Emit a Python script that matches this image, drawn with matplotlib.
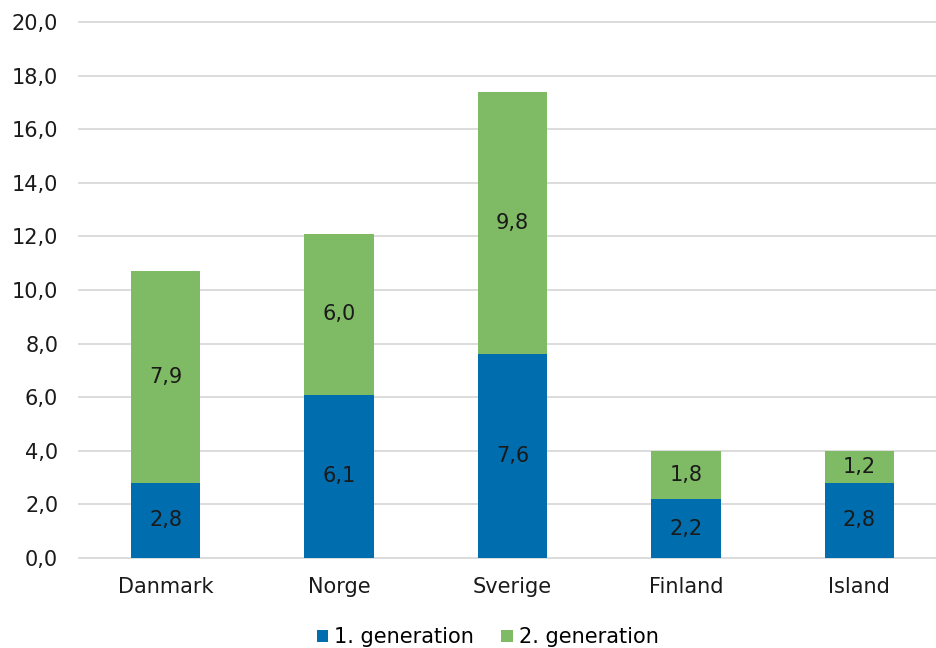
import matplotlib.pyplot as plt
import numpy as np

# Data
countries = ["Danmark", "Norge", "Sverige", "Finland", "Island"]
gen1 = [2.8, 6.1, 7.6, 2.2, 2.8]
gen2 = [7.9, 6.0, 9.8, 1.8, 1.2]
series_names = ["1. generation", "2. generation"]
yticks = [0, 2, 4, 6, 8, 10, 12, 14, 16, 18, 20]

BLUE = "#006DAE"
GREEN = "#7FBA64"
TXT = "#1a1a1a"
FS = 15

plt.rcParams['font.family'] = ['DejaVu Sans']

fig = plt.figure(figsize=(9.36, 6.48), dpi=100)
ax = fig.add_axes([79 / 936, (648 - 558) / 648, 867 / 936, 536 / 648])

x = np.arange(len(countries))
w = 0.4
b1 = ax.bar(x, gen1, width=w, color=BLUE, label=series_names[0], zorder=3)
b2 = ax.bar(x, gen2, width=w, bottom=gen1, color=GREEN, label=series_names[1], zorder=3)

# value labels
for i in range(len(countries)):
    ax.text(x[i], gen1[i] / 2, f"{gen1[i]:.1f}".replace(".", ","),
            ha="center", va="center", fontsize=FS, color=TXT, zorder=4)
    ax.text(x[i], gen1[i] + gen2[i] / 2, f"{gen2[i]:.1f}".replace(".", ","),
            ha="center", va="center", fontsize=FS, color=TXT, zorder=4)

ax.set_xlim(-0.5, len(countries) - 0.5)
ax.set_ylim(0, 20)
ax.set_yticks(yticks)
ax.set_yticklabels([f"{v:.1f}".replace(".", ",") for v in yticks], fontsize=FS, color=TXT)
ax.set_xticks(x)
ax.set_xticklabels(countries, fontsize=FS, color=TXT)
ax.tick_params(axis="both", length=0)
ax.tick_params(axis="y", pad=15)
ax.tick_params(axis="x", pad=14)

ax.grid(axis="y", color="#D9D9D9", linewidth=1.3, zorder=0)
for line in ax.get_ygridlines():
    line.set_clip_on(False)
for spine in ax.spines.values():
    spine.set_visible(False)

# legend sits a bit right of figure centre, as in the original
fig.legend(handles=[b1, b2], loc="lower center", bbox_to_anchor=(0.521, -0.028),
           ncol=2, frameon=False, fontsize=FS, handlelength=0.55, handleheight=0.55,
           handletextpad=0.3, columnspacing=1.3)

fig.savefig("out.png", dpi=100, facecolor="white")
